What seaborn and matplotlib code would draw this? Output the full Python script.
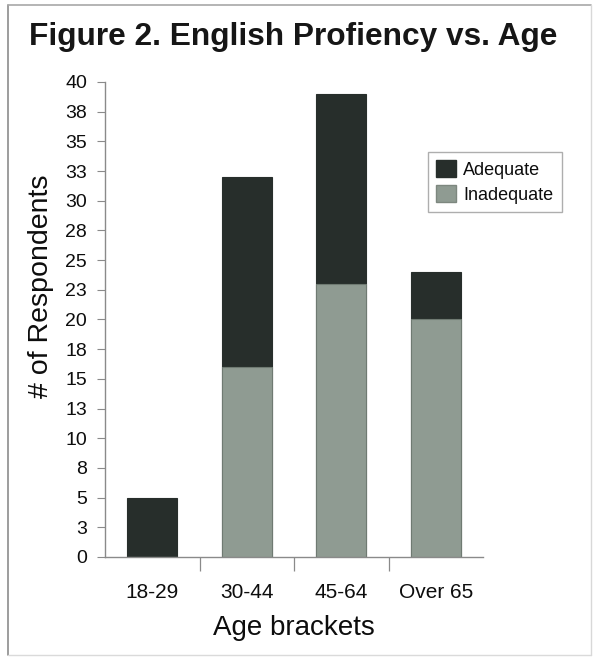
import matplotlib
matplotlib.use("Agg")
import matplotlib.pyplot as plt
from matplotlib.lines import Line2D
from matplotlib.patches import Patch
import seaborn as sns
import pandas as pd

# Survey counts by age bracket
age_brackets = ["18-29", "30-44", "45-64", "Over 65"]
adequate = [5, 16, 16, 4]
inadequate = [0, 16, 23, 20]

# y axis: ticks every 2.5 respondents, labelled to the nearest whole number
y_ticks = [0, 2.5, 5, 7.5, 10, 12.5, 15, 17.5, 20, 22.5, 25, 27.5, 30, 32.5, 35, 37.5, 40]
y_tick_labels = ["0", "3", "5", "8", "10", "13", "15", "18", "20", "23", "25",
                 "28", "30", "33", "35", "38", "40"]

ADEQ_COLOR = "#272e2b"
INADEQ_COLOR = "#8f9b92"
SPINE_COLOR = "#8a8a8a"
TEXT_COLOR = "#0d0d0d"

sns.set_style("white")
plt.rcParams["font.family"] = ["Liberation Sans", "DejaVu Sans"]

df = pd.DataFrame({
    "age": age_brackets,
    "total": [a + i for a, i in zip(adequate, inadequate)],
    "inadequate": inadequate,
})

fig = plt.figure(figsize=(5.95, 6.59), dpi=100)
ax = fig.add_axes([0.1765, 0.1548, 0.6353, 0.7208])

# stacked bars: full height in the dark colour, inadequate share drawn over it
sns.barplot(data=df, x="age", y="total", color=ADEQ_COLOR, width=0.53,
            edgecolor=ADEQ_COLOR, linewidth=0.8, saturation=1, ax=ax)
sns.barplot(data=df, x="age", y="inadequate", color=INADEQ_COLOR, width=0.53,
            edgecolor="#6f7a72", linewidth=0.8, saturation=1, ax=ax)

ax.set_xlim(-0.5, 3.5)
ax.set_ylim(0, 40)

ax.set_yticks(y_ticks)
ax.set_yticklabels(y_tick_labels, fontsize=14, color=TEXT_COLOR)
ax.tick_params(axis="y", which="major", direction="out", length=6, width=0.8,
               color=SPINE_COLOR, pad=7, left=True)

# category separators as ticks below the axis
ax.set_xticks([0.5, 1.5, 2.5], minor=True)
ax.tick_params(axis="x", which="minor", direction="out", length=10, width=0.9,
               color=SPINE_COLOR, bottom=True)
ax.tick_params(axis="x", which="major", length=0, pad=19, labelsize=15,
               labelcolor=TEXT_COLOR)

for side in ("top", "right"):
    ax.spines[side].set_visible(False)
for side in ("left", "bottom"):
    ax.spines[side].set_color(SPINE_COLOR)
    ax.spines[side].set_linewidth(1.0)

ax.set_xlabel("Age brackets", fontsize=20, color=TEXT_COLOR, labelpad=9)
ax.set_ylabel("# of Respondents", fontsize=20.5, color=TEXT_COLOR)
ax.yaxis.set_label_coords(-0.135, 0.57)

handles = [Patch(facecolor=ADEQ_COLOR, edgecolor=ADEQ_COLOR),
           Patch(facecolor=INADEQ_COLOR, edgecolor="#7d877f")]
leg = ax.legend(handles, ["Adequate", "Inadequate"], loc="upper left",
                bbox_to_anchor=(0.855, 0.853), borderaxespad=0, fontsize=13,
                frameon=True, fancybox=False, edgecolor="#9a9a9a",
                handlelength=1.1, handleheight=1.1, handletextpad=0.4,
                borderpad=0.45, labelspacing=0.35)
leg.get_frame().set_linewidth(1.0)
for t in leg.get_texts():
    t.set_color(TEXT_COLOR)

fig.text(0.492, 0.932, "Figure 2. English Profiency vs. Age", ha="center",
         va="baseline", fontsize=22.8, fontweight="bold", color="#161616")

# outer frame around the figure
fig.add_artist(Line2D([0.0135, 0.0135], [0.006, 0.992], color="#8c8c8c", lw=1.2))
fig.add_artist(Line2D([0.0135, 0.993], [0.992, 0.992], color="#a8a8a8", lw=1.2))
fig.add_artist(Line2D([0.994, 0.994], [0.006, 0.992], color="#d8d8d8", lw=1.0))
fig.add_artist(Line2D([0.0135, 0.993], [0.006, 0.006], color="#dadada", lw=1.0))

fig.savefig("out.png", dpi=100, facecolor="white")
